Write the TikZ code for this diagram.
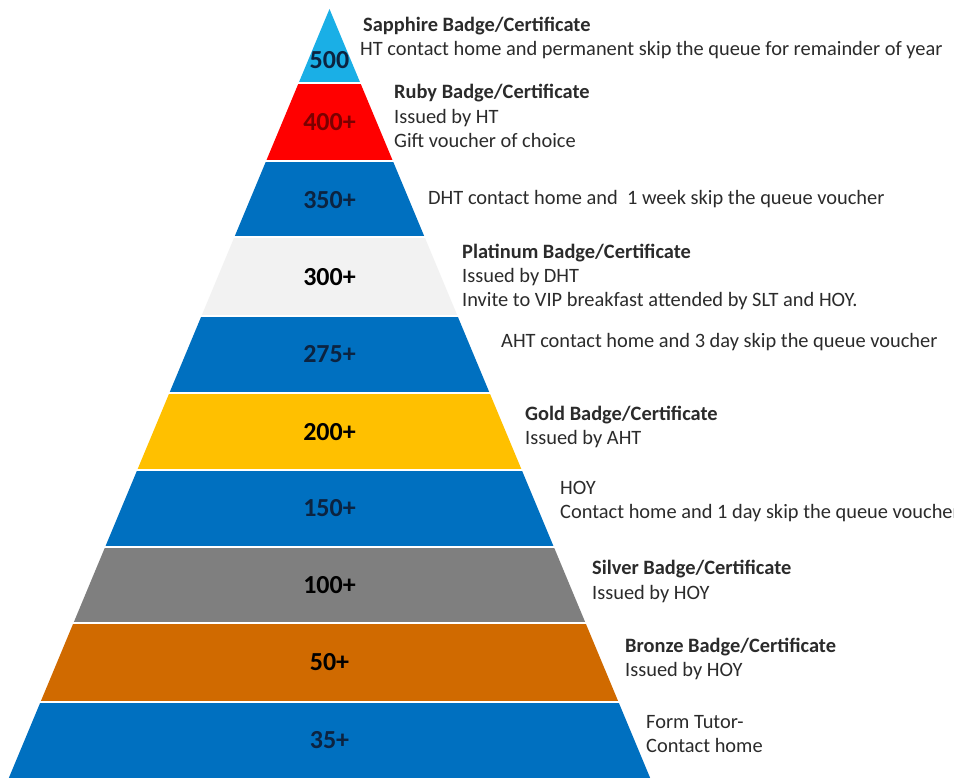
\documentclass[tikz,border=0pt]{standalone}
\usepackage{fontspec}
\setmainfont{Carlito}
\definecolor{sapphire}{HTML}{1AAFE6}
\definecolor{ruby}{HTML}{FF0000}
\definecolor{bandblue}{HTML}{0070C0}
\definecolor{platinum}{HTML}{F2F2F2}
\definecolor{gold}{HTML}{FFC000}
\definecolor{silver}{HTML}{7F7F7F}
\definecolor{bronze}{HTML}{D06A00}
\definecolor{navytext}{HTML}{0C2340}
\definecolor{darkred}{HTML}{7A0000}
\definecolor{bodytext}{HTML}{2B2B2B}
\def\pyrband#1#2#3{%
  \pgfmathsetmacro\pyrtl{329.5-0.417*(#1-9)}%
  \pgfmathsetmacro\pyrtr{329.5+0.417*(#1-9)}%
  \pgfmathsetmacro\pyrbl{329.5-0.417*(#2-9)}%
  \pgfmathsetmacro\pyrbr{329.5+0.417*(#2-9)}%
  \fill[#3] (\pyrtl,#1) -- (\pyrtr,#1) -- (\pyrbr,#2) -- (\pyrbl,#2) -- cycle;}
\tikzset{
  lvl/.style={font=\fontsize{26}{30}\selectfont\bfseries, inner sep=0pt, anchor=center},
  head/.style={font=\fontsize{20.4}{24}\selectfont\bfseries, text=bodytext, inner sep=0pt, anchor=base west},
  body/.style={font=\fontsize{20.4}{24}\selectfont, text=bodytext, inner sep=0pt, anchor=base west},
  sep/.style={draw=white, line width=1.6pt}
}
\begin{document}
\begin{tikzpicture}[x=1pt,y=-1pt]
\useasboundingbox (0,0) rectangle (954,778);
\clip (0,0) rectangle (954,778);
\fill[white] (0,0) rectangle (954,778);
% bands
\pyrband{9}{83}{sapphire}
\pyrband{83}{161}{ruby}
\pyrband{161}{237}{bandblue}
\pyrband{237}{316}{platinum}
\pyrband{316}{393}{bandblue}
\pyrband{393}{470}{gold}
\pyrband{470}{547}{bandblue}
\pyrband{547}{623}{silver}
\pyrband{623}{702}{bronze}
\pyrband{702}{790}{bandblue}
% separators
\foreach \yy in {83,161,237,316,393,470,547,623,702}
  \draw[sep] (0,\yy) -- (700,\yy);
% level labels
\node[lvl, text=navytext] (l500) at (329.5,60) {500};
\node[lvl, text=darkred] (l400) at (329.5,122) {400+};
\node[lvl, text=navytext] (l350) at (329.5,200) {350+};
\node[lvl, text=black] (l300) at (329.5,277) {300+};
\node[lvl, text=navytext] (l275) at (329.5,354) {275+};
\node[lvl, text=black] (l200) at (329.5,432) {200+};
\node[lvl, text=navytext] (l150) at (329.5,508) {150+};
\node[lvl, text=black] (l100) at (329.5,585) {100+};
\node[lvl, text=black] (l50) at (329.5,662) {50+};
\node[lvl, text=navytext] (l35) at (329.5,740) {35+};
% descriptions
\node[head] (sapA) at (363,31.5) {Sapphire Badge/Certificate};
\node[body] (sapB) at (360,56) {HT contact home and permanent skip the queue for remainder of year};
\node[head] (rubA) at (394,99) {Ruby Badge/Certificate};
\node[body] (rubB) at (394,123.5) {Issued by HT};
\node[body] (rubC) at (394,148) {Gift voucher of choice};
\node[body] (dht) at (428,204.5) {DHT contact home and \ 1 week skip the queue voucher};
\node[head] (plaA) at (462,258.5) {Platinum Badge/Certificate};
\node[body] (plaB) at (462,282.5) {Issued by DHT};
\node[body] (plaC) at (462,306.5) {Invite to VIP breakfast attended by SLT and HOY.};
\node[body] (aht) at (501,347.5) {AHT contact home and 3 day skip the queue voucher};
\node[head] (golA) at (525,420.5) {Gold Badge/Certificate};
\node[body] (golB) at (525,444.5) {Issued by AHT};
\node[body] (hoyA) at (560,494.5) {HOY};
\node[body] (hoyB) at (560,518.5) {Contact home and 1 day skip the queue voucher};
\node[head] (silA) at (592,574.5) {Silver Badge/Certificate};
\node[body] (silB) at (592,599.5) {Issued by HOY};
\node[head] (broA) at (625,652.5) {Bronze Badge/Certificate};
\node[body] (broB) at (625,676.5) {Issued by HOY};
\node[body] (ftA) at (646,728.5) {Form Tutor-};
\node[body] (ftB) at (646,752.5) {Contact home};
\end{tikzpicture}
\end{document}
